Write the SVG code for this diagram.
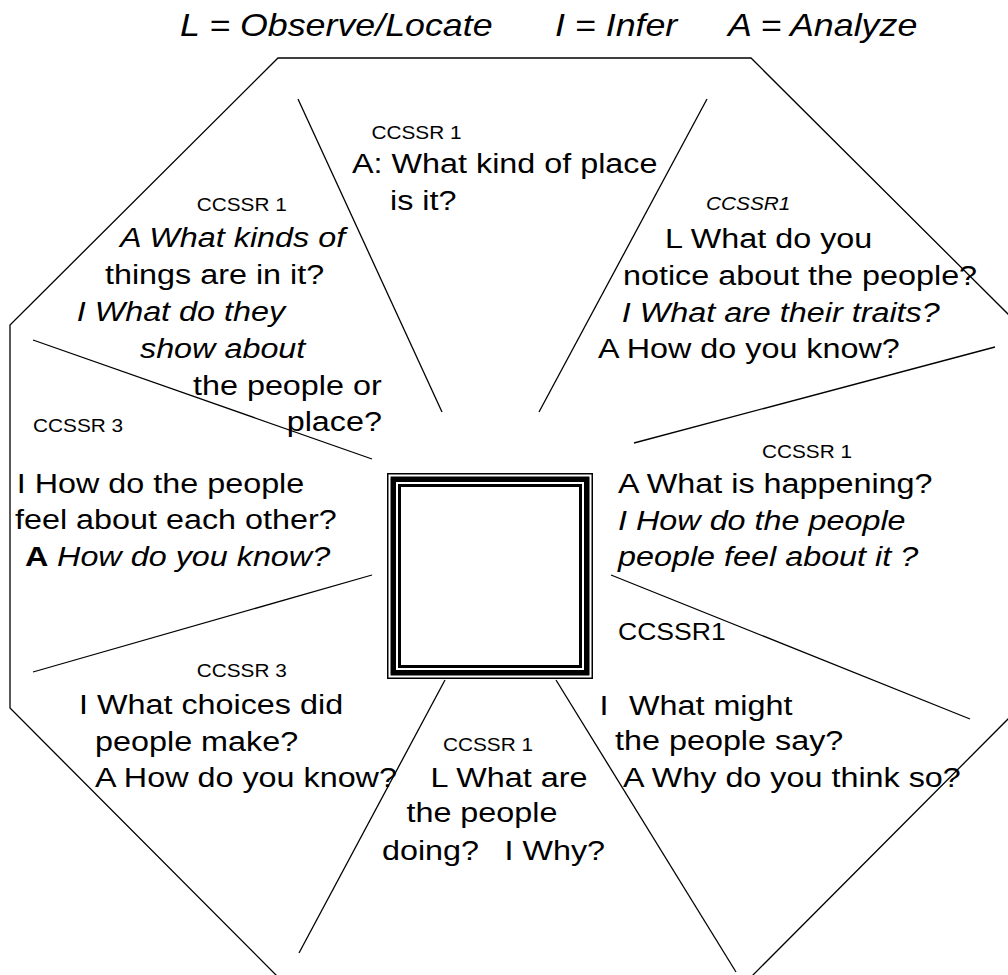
<svg xmlns="http://www.w3.org/2000/svg" width="1008" height="975" viewBox="0 0 1008 975">
<style>
text{font-family:"Liberation Sans",Arial,sans-serif;fill:#000}
.t{font-size:28px}
.s{font-size:18px}
.i{font-style:italic}
.ln{stroke:#000;stroke-width:1.3;fill:none}
</style>
<rect x="0" y="0" width="1008" height="975" fill="#fff"/>
<g id="title" transform="scale(1.155 1)">
<text class="i" font-size="31" y="36"><tspan x="155.8">L = Observe/Locate</tspan><tspan x="480.5">I = Infer</tspan><tspan x="630.3">A = Analyze</tspan></text>
</g>
<g id="octagon">
<polygon class="ln" points="278,58 751,58 1019,325 1019,708 751,977 278,977 10,708 10,325"/>
</g>
<g id="center">
<rect x="387.75" y="473.75" width="204.5" height="204.5" fill="#fff" stroke="#000" stroke-width="1.5"/>
<rect x="393.25" y="479.25" width="193.5" height="193.5" fill="none" stroke="#000" stroke-width="5.5"/>
<rect x="399.5" y="485.5" width="181" height="181" fill="none" stroke="#000" stroke-width="3"/>
</g>
<g id="connectors">
<line class="ln" x1="298" y1="99" x2="442" y2="412"/>
<line class="ln" x1="707" y1="99" x2="539" y2="412"/>
<line class="ln" x1="33" y1="340" x2="372" y2="459"/>
<line class="ln" x1="995" y1="347" x2="634" y2="443"/>
<line class="ln" x1="372" y1="575" x2="33" y2="672"/>
<line class="ln" x1="611" y1="575" x2="970" y2="719"/>
<line class="ln" x1="445" y1="680" x2="299" y2="953"/>
<line class="ln" x1="556" y1="680" x2="736" y2="972"/>
</g>
<g id="node-top" transform="scale(1.155 1)">
<text class="s" x="321.6" y="139">CCSSR 1</text>
<text class="t" x="304.8" y="173">A: What kind of place</text>
<text class="t" x="337.7" y="210">is it?</text>
</g>
<g id="node-top-left" transform="scale(1.155 1)">
<text class="s" x="170.3" y="211">CCSSR 1</text>
<text class="t i" x="103.9" y="247">A What kinds of</text>
<text class="t" x="90.9" y="284">things are in it?</text>
<text class="t i" x="66.4" y="321">I What do they</text>
<text class="t i" x="121.2" y="358">show about</text>
<text class="t" x="167.1" y="395">the people or</text>
<text class="t" x="248.2" y="431">place?</text>
</g>
<g id="node-top-right" transform="scale(1.155 1)">
<text class="s i" x="611.3" y="210">CCSSR1</text>
<text class="t" x="575.8" y="248">L What do you</text>
<text class="t" x="539.4" y="285">notice about the people?</text>
<text class="t i" x="538.3" y="322">I What are their traits?</text>
<text class="t" x="517.7" y="358">A How do you know?</text>
</g>
<g id="node-left" transform="scale(1.155 1)">
<text class="s" x="28.6" y="432">CCSSR 3</text>
<text class="t" x="14.5" y="493">I How do the people</text>
<text class="t" x="13" y="529">feel about each other?</text>
<text class="t" x="21.6" y="566"><tspan font-weight="bold">A</tspan><tspan class="i" x="49.4">How do you know?</tspan></text>
</g>
<g id="node-right" transform="scale(1.155 1)">
<text class="s" x="659.7" y="458">CCSSR 1</text>
<text class="t" x="535.1" y="493">A What is happening?</text>
<text class="t i" x="535.1" y="530">I How do the people</text>
<text class="t i" x="535.1" y="566">people feel about it ?</text>
</g>
<g id="node-bottom-left" transform="scale(1.155 1)">
<text class="s" x="170.3" y="677">CCSSR 3</text>
<text class="t" x="68.4" y="714">I What choices did</text>
<text class="t" x="82.3" y="751">people make?</text>
<text class="t" x="82.3" y="787">A How do you know?</text>
</g>
<g id="node-bottom" transform="scale(1.155 1)">
<text class="s" x="383.5" y="751">CCSSR 1</text>
<text class="t" x="372.8" y="787">L What are</text>
<text class="t" x="351.9" y="822">the people</text>
<text class="t" y="860"><tspan x="330.7">doing?</tspan><tspan x="436.8">I Why?</tspan></text>
</g>
<g id="node-bottom-right" transform="scale(1.155 1)">
<text font-size="23" x="535.1" y="640">CCSSR1</text>
<text class="t" y="715"><tspan x="519">I</tspan><tspan x="544.6">What might</tspan></text>
<text class="t" x="532.5" y="750">the people say?</text>
<text class="t" x="539.4" y="787">A Why do you think so?</text>
</g>
</svg>
